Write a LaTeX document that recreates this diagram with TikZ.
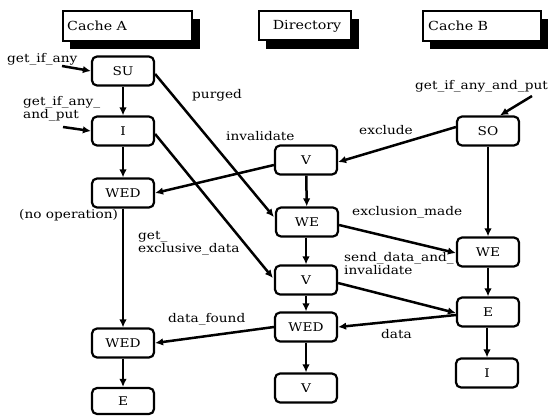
\documentclass[tikz,border=0pt]{standalone}
\usepackage{fontspec}
\setmainfont{DejaVu Serif}[FakeStretch=1.14]
\usetikzlibrary{arrows.meta,calc}
\begin{document}
\begin{tikzpicture}[x=1pt,y=-1pt,
  state/.style={draw,line width=2.2pt,rounded corners=5pt,minimum width=62pt,minimum height=29pt,inner sep=0pt,font=\fontsize{12}{13}\selectfont},
  lbl/.style={inner sep=0pt,font=\fontsize{12}{13}\selectfont},
  hdr/.style={draw,line width=1.2pt,fill=white,inner sep=0pt},
  hdrtext/.style={inner sep=0pt,font=\fontsize{12.5}{13.5}\selectfont},
  arr/.style={line width=2.5pt,-{Latex[length=8pt,width=7.5pt]}},
  shadowbox/.style={fill=black}]
\useasboundingbox (0,0) rectangle (548,416);
% headers
\fill[shadowbox] (70,19) rectangle (200,49);
\node[hdr,minimum width=129pt,minimum height=30pt] (ha) at (127.5,26) {};
\node[hdrtext,anchor=west] (hat) at (67,26) {Cache A};
\fill[shadowbox] (266,19) rectangle (359,49);
\node[hdr,minimum width=92pt,minimum height=29pt] (hd) at (305,25.5) {};
\node[hdrtext] (hdt) at (307,26) {Directory};
\fill[shadowbox] (430,19) rectangle (548,49);
\node[hdr,minimum width=118pt,minimum height=30pt] (hb) at (482,26) {};
\node[hdrtext,anchor=west] (hbt) at (428,26) {Cache B};
% Cache A column
\node[state] (SU) at (123,71) {SU};
\node[state] (Ia) at (123,131) {I};
\node[state] (WEDa) at (123,193) {WED};
\node[state] (WEDb) at (123,343) {WED};
\node[state,minimum height=26pt] (Ea) at (123,401) {E};
% Directory column
\node[state] (V1) at (306,160) {V};
\node[state] (WEd) at (307,222) {WE};
\node[state] (V2) at (306,280) {V};
\node[state] (WEDd) at (306,327) {WED};
\node[state] (V3) at (306,388) {V};
% Cache B column
\node[state] (SO) at (488,131) {SO};
\node[state] (WEb) at (488,252) {WE};
\node[state] (Eb) at (488,312) {E};
\node[state] (Ib) at (487,373) {I};
% free ends
\coordinate (g1) at (62,66);
\coordinate (g2) at (63,127);
\coordinate (g3) at (532,96);
% vertical arrows
\draw[arr] (SU) -- (Ia);
\draw[arr] (Ia) -- (WEDa);
\draw[arr] (WEDa) -- (WEDb);
\draw[arr] (WEDb) -- (Ea);
\draw[arr] (V1) -- (WEd);
\draw[arr] (WEd.south -| V2) -- (V2);
\draw[arr] (V2) -- (WEDd);
\draw[arr] (WEDd) -- (V3);
\draw[arr] (SO) -- (WEb);
\draw[arr] (WEb) -- (Eb);
\draw[arr] (Eb.south -| Ib) -- (Ib);
% inputs
\draw[arr] (g1) -- (SU.west);
\draw[arr] (g2) -- (Ia.west);
\draw[arr] (g3) -- ($(SO.north)+(12,0)$);
% diagonals
\draw[arr] ($(SU.east)+(0,3)$) -- ($(WEd.west)+(-1,-5)$);
\draw[arr] ($(Ia.east)+(0,3)$) -- ($(V2.west)+(-1,-2)$);
\draw[arr] ($(V1.west)+(0,5)$) -- (WEDa.east);
\draw[arr] ($(SO.west)+(0,-4)$) -- ($(V1.east)+(0,2)$);
\draw[arr] ($(WEd.east)+(0,3)$) -- ($(WEb.west)+(0,1)$);
\draw[arr] ($(V2.east)+(0,3)$) -- ($(Eb.west)+(0,1)$);
\draw[arr] ($(Eb.west)+(0,3)$) -- (WEDd.east);
\draw[arr] (WEDd.west) -- (WEDb.east);
% labels
\node[lbl,anchor=west] (l1) at (7,59) {get\_if\_any};
\node[lbl,anchor=north west,align=left] (l2) at (23,96) {get\_if\_any\_\\and\_put};
\node[lbl,anchor=west] (l3) at (192,95) {purged};
\node[lbl,anchor=west] (l4) at (226,136) {invalidate};
\node[lbl,anchor=west] (l5) at (359,130) {exclude};
\node[lbl,anchor=west] (l6) at (415,86) {get\_if\_any\_and\_put};
\node[lbl,anchor=west] (l7) at (19,215) {(no operation)};
\node[lbl,anchor=north west,align=left] (l8) at (138,231) {get\_\\exclusive\_data};
\node[lbl,anchor=west] (l9) at (352,212) {exclusion\_made};
\node[lbl,anchor=north west,align=left] (l10) at (344,252) {send\_data\_and\_\\invalidate};
\node[lbl,anchor=west] (l11) at (381,334) {data};
\node[lbl,anchor=west] (l12) at (168,319) {data\_found};
\end{tikzpicture}
\end{document}
